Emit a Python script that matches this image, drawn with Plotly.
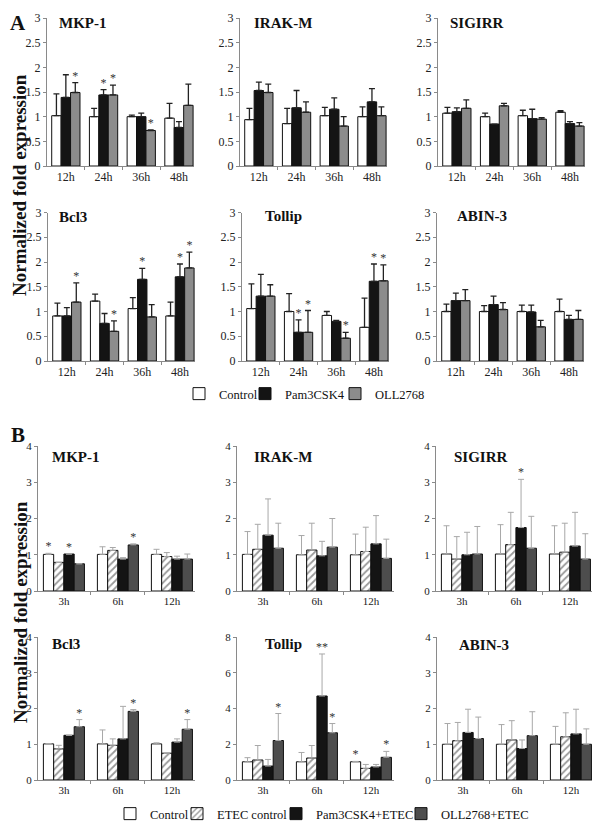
import plotly.graph_objects as go

# ---------------- data ----------------
A_TIMES = ["12h", "24h", "36h", "48h"]
B_TIMES = ["3h", "6h", "12h"]
A_SERIES = ["Control", "Pam3CSK4", "OLL2768"]
B_SERIES = ["Control", "ETEC control", "Pam3CSK4+ETEC", "OLL2768+ETEC"]

# Panel A (rows: Control, Pam3CSK4, OLL2768 ; columns: 12h, 24h, 36h, 48h)
A_MKP1_MEAN = [[1.02, 1.00, 1.00, 0.97], [1.39, 1.44, 1.00, 0.78], [1.49, 1.44, 0.72, 1.23]]
A_MKP1_SD = [[0.44, 0.17, 0.03, 0.30], [0.46, 0.11, 0.07, 0.12], [0.20, 0.20, 0.01, 0.43]]
A_MKP1_SIG = [["", "", "", ""], ["", "*", "", ""], ["*", "*", "*", ""]]

A_IRAKM_MEAN = [[0.94, 0.86, 1.02, 1.00], [1.53, 1.18, 1.15, 1.30], [1.49, 1.09, 0.81, 1.02]]
A_IRAKM_SD = [[0.23, 0.31, 0.17, 0.20], [0.17, 0.35, 0.23, 0.27], [0.17, 0.21, 0.19, 0.18]]
A_IRAKM_SIG = [["", "", "", ""], ["", "", "", ""], ["", "", "", ""]]

A_SIGIRR_MEAN = [[1.07, 1.00, 1.02, 1.09], [1.10, 0.85, 0.96, 0.86], [1.17, 1.22, 0.95, 0.81]]
A_SIGIRR_SD = [[0.12, 0.07, 0.11, 0.03], [0.08, 0.00, 0.19, 0.04], [0.17, 0.05, 0.03, 0.07]]
A_SIGIRR_SIG = [["", "", "", ""], ["", "", "", ""], ["", "", "", ""]]

A_BCL3_MEAN = [[0.91, 1.21, 1.06, 0.91], [0.91, 0.76, 1.65, 1.70], [1.19, 0.60, 0.89, 1.88]]
A_BCL3_SD = [[0.26, 0.14, 0.22, 0.28], [0.17, 0.20, 0.22, 0.26], [0.39, 0.21, 0.25, 0.32]]
A_BCL3_SIG = [["", "", "", ""], ["", "", "*", "*"], ["*", "*", "", "*"]]

A_TOLLIP_MEAN = [[1.06, 1.00, 0.92, 0.68], [1.31, 0.58, 0.80, 1.61], [1.31, 0.58, 0.46, 1.62]]
A_TOLLIP_SD = [[0.50, 0.36, 0.08, 0.59], [0.44, 0.25, 0.02, 0.35], [0.23, 0.44, 0.12, 0.32]]
A_TOLLIP_SIG = [["", "", "", ""], ["", "*", "", "*"], ["", "*", "*", "*"]]

A_ABIN3_MEAN = [[1.00, 1.00, 1.00, 1.00], [1.22, 1.14, 0.99, 0.84], [1.22, 1.04, 0.69, 0.84]]
A_ABIN3_SD = [[0.15, 0.12, 0.13, 0.25], [0.15, 0.17, 0.14, 0.08], [0.22, 0.14, 0.13, 0.18]]
A_ABIN3_SIG = [["", "", "", ""], ["", "", "", ""], ["", "", "", ""]]

# Panel B (rows: Control, ETEC control, Pam3CSK4+ETEC, OLL2768+ETEC ; columns: 3h, 6h, 12h)
B_MKP1_MEAN = [[1.01, 1.01, 1.01], [0.79, 1.12, 0.95], [1.02, 0.88, 0.88], [0.75, 1.27, 0.88]]
B_MKP1_SD = [[0.03, 0.21, 0.14], [0.00, 0.08, 0.11], [0.00, 0.04, 0.08], [0.00, 0.03, 0.14]]
B_MKP1_SIG = [["*", "", ""], ["", "", ""], ["*", "", ""], ["", "*", ""]]

B_IRAKM_MEAN = [[1.01, 1.00, 1.00], [1.15, 1.13, 1.09], [1.54, 0.97, 1.30], [1.18, 1.21, 0.90]]
B_IRAKM_SD = [[0.63, 0.53, 0.57], [0.69, 0.74, 0.67], [1.00, 0.40, 0.78], [0.69, 0.79, 0.53]]
B_IRAKM_SIG = [["", "", ""], ["", "", ""], ["", "", ""], ["", "", ""]]

B_SIGIRR_MEAN = [[1.02, 1.02, 1.02], [0.88, 1.28, 1.07], [1.00, 1.75, 1.24], [1.02, 1.18, 0.88]]
B_SIGIRR_SD = [[0.78, 0.81, 0.78], [0.62, 0.89, 0.80], [0.62, 1.33, 0.93], [0.76, 0.88, 0.70]]
B_SIGIRR_SIG = [["", "", ""], ["", "", ""], ["", "*", ""], ["", "", ""]]

B_BCL3_MEAN = [[1.01, 1.01, 1.01], [0.87, 0.97, 0.75], [1.25, 1.15, 1.06], [1.49, 1.92, 1.42]]
B_BCL3_SD = [[0.01, 0.39, 0.03], [0.10, 0.18, 0.00], [0.00, 0.91, 0.09], [0.20, 0.05, 0.27]]
B_BCL3_SIG = [["", "", ""], ["", "", ""], ["", "", ""], ["*", "*", "*"]]

B_TOLLIP_MEAN = [[1.02, 1.02, 1.02], [1.12, 1.23, 0.65], [0.78, 4.70, 0.73], [2.21, 2.64, 1.27]]
B_TOLLIP_SD = [[0.23, 0.52, 0.02], [0.81, 0.70, 0.22], [0.37, 2.35, 0.14], [1.51, 0.52, 0.33]]
B_TOLLIP_SIG = [["", "", "*"], ["", "", ""], ["", "**", ""], ["*", "*", "*"]]

B_ABIN3_MEAN = [[1.00, 1.00, 1.00], [1.10, 1.12, 1.21], [1.33, 0.88, 1.29], [1.16, 1.24, 1.00]]
B_ABIN3_SD = [[0.58, 0.55, 0.50], [0.51, 0.54, 0.67], [0.65, 0.24, 0.69], [0.60, 0.67, 0.43]]
B_ABIN3_SIG = [["", "", ""], ["", "", ""], ["", "", ""], ["", "", ""]]

A_YTICKS = [0, 0.5, 1, 1.5, 2, 2.5, 3]
B_YTICKS = [0, 1, 2, 3, 4]
B_TOLLIP_YTICKS = [0, 2, 4, 6, 8]

# ---------------- layout / styling ----------------
# The page body has an 8px margin, so the figure is drawn 8px smaller and all
# target positions (window pixels) are converted through px2x / px2y.
OX, OY = 8, 8
FW, FH = 592, 813
SERIF = "Liberation Serif, Times New Roman, serif"


def px2x(X):
    return (X - OX) / FW


def px2y(Y):
    return 1 - (Y - OY) / FH


# (panel, title, mean, sd, sig, yticks, x_left_px, y_top_px, y_bottom_px, title_x_px, title_y_px)
SUBPLOTS = [
    ("A", "MKP-1", A_MKP1_MEAN, A_MKP1_SD, A_MKP1_SIG, A_YTICKS, 47, 18, 166, 57, 23),
    ("A", "IRAK-M", A_IRAKM_MEAN, A_IRAKM_SD, A_IRAKM_SIG, A_YTICKS, 240, 18, 166, 252, 23),
    ("A", "SIGIRR", A_SIGIRR_MEAN, A_SIGIRR_SD, A_SIGIRR_SIG, A_YTICKS, 438, 18, 166, 448, 23),
    ("A", "Bcl3", A_BCL3_MEAN, A_BCL3_SD, A_BCL3_SIG, A_YTICKS, 48, 212.5, 361, 57, 217),
    ("A", "Tollip", A_TOLLIP_MEAN, A_TOLLIP_SD, A_TOLLIP_SIG, A_YTICKS, 242, 212.5, 361, 263, 216),
    ("A", "ABIN-3", A_ABIN3_MEAN, A_ABIN3_SD, A_ABIN3_SIG, A_YTICKS, 437, 212.5, 361, 455, 216),
    ("B", "MKP-1", B_MKP1_MEAN, B_MKP1_SD, B_MKP1_SIG, B_YTICKS, 38, 446, 591, 50, 457),
    ("B", "IRAK-M", B_IRAKM_MEAN, B_IRAKM_SD, B_IRAKM_SIG, B_YTICKS, 237, 446, 591, 252, 457),
    ("B", "SIGIRR", B_SIGIRR_MEAN, B_SIGIRR_SD, B_SIGIRR_SIG, B_YTICKS, 436, 446, 591, 452, 457),
    ("B", "Bcl3", B_BCL3_MEAN, B_BCL3_SD, B_BCL3_SIG, B_YTICKS, 38, 637, 780, 50, 644),
    ("B", "Tollip", B_TOLLIP_MEAN, B_TOLLIP_SD, B_TOLLIP_SIG, B_TOLLIP_YTICKS, 237, 637, 780, 263, 644),
    ("B", "ABIN-3", B_ABIN3_MEAN, B_ABIN3_SD, B_ABIN3_SIG, B_YTICKS, 437, 637, 780, 457, 645),
]

PANEL_STYLE = {
    "A": dict(times=A_TIMES, series=A_SERIES, barw=0.25, xr=[-0.5, 3.4], unit=37.7,
              errcolor="#222222", errthick=1.3, tickfont=12),
    "B": dict(times=B_TIMES, series=B_SERIES, barw=0.19, xr=[-0.48, 2.42], unit=54.0,
              errcolor="#a8a8a8", errthick=1.0, tickfont=11),
}

MARKERS = {
    "Control": dict(color="white", line=dict(color="#111111", width=1)),
    "Pam3CSK4": dict(color="#141414", line=dict(color="#111111", width=1)),
    "OLL2768": dict(color="#8c8c8c", line=dict(color="#111111", width=1)),
    "ETEC control": dict(color="white", line=dict(color="#111111", width=1),
                         pattern=dict(shape="/", fgcolor="#333333", bgcolor="white",
                                      size=5, solidity=0.35)),
    "Pam3CSK4+ETEC": dict(color="#141414", line=dict(color="#111111", width=1)),
    "OLL2768+ETEC": dict(color="#4d4d4d", line=dict(color="#111111", width=1)),
}

# one legend box per entry: (legend id, symbol-left x px, centre y px)
LEGEND_POS = {
    ("A", "Control"): ("legend", 193, 394),
    ("A", "Pam3CSK4"): ("legend2", 259, 394),
    ("A", "OLL2768"): ("legend3", 349, 394),
    ("B", "Control"): ("legend4", 124, 814),
    ("B", "ETEC control"): ("legend5", 191, 814),
    ("B", "Pam3CSK4+ETEC"): ("legend6", 290, 814),
    ("B", "OLL2768+ETEC"): ("legend7", 415, 814),
}

fig = go.Figure()
annotations = []
legend_done = {"A": False, "B": False}

for k, (panel, title, mean, sd, sig, yticks, xl, yt, yb, tx, ty) in enumerate(SUBPLOTS, start=1):
    st = PANEL_STYLE[panel]
    xa = "x" if k == 1 else f"x{k}"
    ya = "y" if k == 1 else f"y{k}"
    n = len(st["times"])
    m = len(st["series"])
    w = st["barw"]
    for j, sname in enumerate(st["series"]):
        off = (j - (m - 1) / 2) * w
        xs = [i + off for i in range(n)]
        fig.add_trace(go.Bar(
            x=xs, y=mean[j], width=w, name=sname,
            marker=MARKERS[sname],
            error_y=dict(type="data", array=sd[j], arrayminus=[0] * n, symmetric=False,
                         color=st["errcolor"], thickness=st["errthick"], width=3),
            xaxis=xa, yaxis=ya, legend=LEGEND_POS[(panel, sname)][0],
            showlegend=not legend_done[panel], hoverinfo="skip",
        ))
        fig.add_trace(go.Scatter(
            x=xs, y=[a + b for a, b in zip(mean[j], sd[j])], mode="text", text=sig[j],
            textposition="top center",
            textfont=dict(family=SERIF, size=12, color="#333333"),
            marker=dict(color="#333333"),
            xaxis=xa, yaxis=ya, showlegend=False, hoverinfo="skip",
        ))
    legend_done[panel] = True

    width_px = (st["xr"][1] - st["xr"][0]) * st["unit"]
    xdom = [px2x(xl), px2x(xl + width_px)]
    ydom = [px2y(yb), px2y(yt)]
    axis_x = dict(domain=xdom, range=st["xr"], anchor=ya,
                  tickmode="array", tickvals=list(range(n)), ticktext=st["times"],
                  ticks="", showline=True, linecolor="#8a8a8a", linewidth=1,
                  showgrid=False, zeroline=False, fixedrange=True,
                  tickfont=dict(family=SERIF, size=st["tickfont"], color="#222222"),
                  minor=dict(tickmode="array", tickvals=[i + 0.5 for i in range(n - 1)],
                             ticks="outside", ticklen=3, tickcolor="#8a8a8a"))
    axis_y = dict(domain=ydom, range=[0, yticks[-1]], anchor=xa,
                  tickmode="array", tickvals=yticks,
                  ticks="outside", ticklen=3, tickcolor="#8a8a8a",
                  showline=True, linecolor="#8a8a8a", linewidth=1,
                  showgrid=False, zeroline=False, fixedrange=True,
                  tickfont=dict(family=SERIF, size=st["tickfont"], color="#222222"))
    fig.update_layout(**{("xaxis" if k == 1 else f"xaxis{k}"): axis_x,
                         ("yaxis" if k == 1 else f"yaxis{k}"): axis_y})
    annotations.append(dict(
        text=f"<b>{title}</b>", xref="paper", yref="paper",
        x=px2x(tx), y=px2y(ty),
        xanchor="left", yanchor="middle", showarrow=False,
        font=dict(family=SERIF, size=15, color="#111111")))

# Panel letters and y-axis titles
annotations += [
    dict(text="<b>A</b>", xref="paper", yref="paper", x=px2x(18), y=px2y(23),
         xanchor="center", yanchor="middle",
         showarrow=False, font=dict(family=SERIF, size=21, color="#111111")),
    dict(text="<b>B</b>", xref="paper", yref="paper", x=px2x(18), y=px2y(435),
         xanchor="center", yanchor="middle",
         showarrow=False, font=dict(family=SERIF, size=21, color="#111111")),
    dict(text="<b>Normalized fold expression</b>", xref="paper", yref="paper",
         x=px2x(20), y=px2y(185), textangle=-90, showarrow=False,
         xanchor="center", yanchor="middle",
         font=dict(family=SERIF, size=19, color="#111111")),
    dict(text="<b>Normalized fold expression</b>", xref="paper", yref="paper",
         x=px2x(20), y=px2y(612), textangle=-90, showarrow=False,
         xanchor="center", yanchor="middle",
         font=dict(family=SERIF, size=19, color="#111111")),
]

legends = {}
for (panel, sname), (lid, box_x, cy) in LEGEND_POS.items():
    legends[lid] = dict(orientation="h", x=px2x(box_x - 14), xanchor="left",
                        y=px2y(cy), yanchor="middle",
                        font=dict(family=SERIF, size=12.5, color="#111111"),
                        itemwidth=30, bgcolor="rgba(0,0,0,0)", borderwidth=0)

fig.update_layout(
    width=FW, height=FH,
    margin=dict(l=0, r=0, t=0, b=0, autoexpand=False),
    paper_bgcolor="white", plot_bgcolor="white",
    barmode="overlay",
    annotations=annotations,
    font=dict(family=SERIF, color="#111111"),
    **legends,
)

fig.write_html("out.html")
